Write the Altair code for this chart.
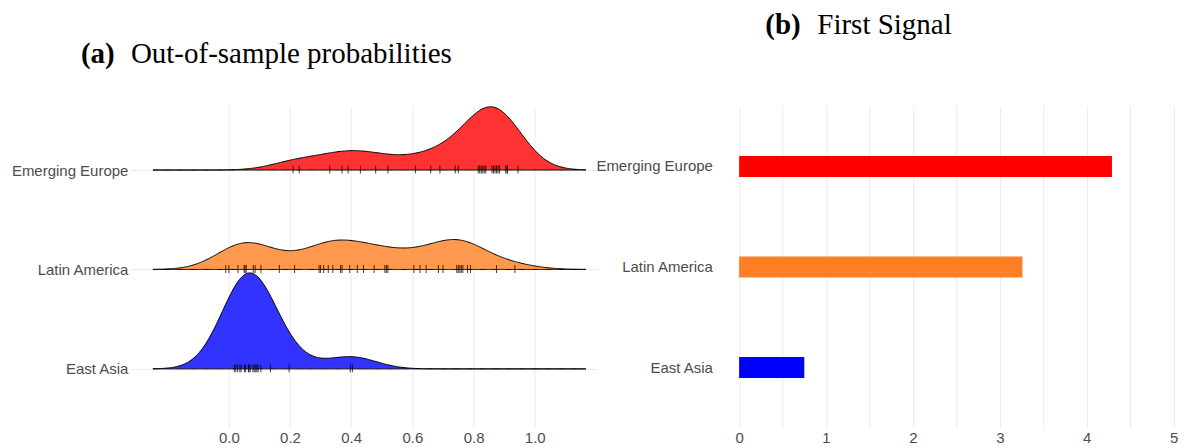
import altair as alt
import pandas as pd
import numpy as np

# ---------------- data ----------------
regions = ["Emerging Europe", "Latin America", "East Asia"]
ridge_pos = [3, 2, 1]
region_colors = ["#FF0000", "#FF7F24", "#0000FF"]

ee_probs = [0.21, 0.23, 0.33, 0.37, 0.39, 0.43, 0.48, 0.52, 0.61, 0.66, 0.69,
            0.74, 0.75, 0.815, 0.82, 0.825, 0.83, 0.835, 0.84, 0.86, 0.865,
            0.87, 0.875, 0.88, 0.885, 0.905, 0.91, 0.91, 0.945]
la_probs = [-0.01, 0.0, 0.03, 0.05, 0.053, 0.057, 0.08, 0.086, 0.105, 0.165,
            0.215, 0.295, 0.30, 0.31, 0.325, 0.34, 0.365, 0.37, 0.395, 0.42,
            0.44, 0.475, 0.51, 0.515, 0.52, 0.605, 0.625, 0.645, 0.685, 0.70,
            0.745, 0.75, 0.755, 0.76, 0.765, 0.78, 0.79, 0.875, 0.935]
ea_probs = [0.018, 0.023, 0.029, 0.036, 0.040, 0.051, 0.055, 0.064, 0.066,
            0.070, 0.079, 0.083, 0.088, 0.092, 0.096, 0.105, 0.136, 0.197,
            0.397, 0.404]

first_signal = [4.29, 3.26, 0.75]

density_extent = [-0.248, 1.167]
prob_ticks = [0.0, 0.2, 0.4, 0.6, 0.8, 1.0]
signal_ticks = [0, 0.5, 1, 1.5, 2, 2.5, 3, 3.5, 4, 4.5, 5]

title_a = ["(a)", "Out-of-sample probabilities"]
title_b = ["(b)", "First Signal"]

# ---------------- tables ----------------
samples = [ee_probs, la_probs, ea_probs]
rows = []
for r, p, s in zip(regions, ridge_pos, samples):
    for v in s:
        rows.append({"region": r, "pos": p, "value": v})
df = pd.DataFrame(rows)


def bw_nrd0(x):
    x = np.asarray(x, dtype=float)
    sd = x.std(ddof=1)
    q75, q25 = np.percentile(x, [75, 25])
    lo = min(sd, (q75 - q25) / 1.34)
    return 0.9 * lo * len(x) ** -0.2


# joint bandwidth as ggridges picks it
bw = float(np.mean([bw_nrd0(s) for s in samples]))

bars_df = pd.DataFrame({"region": regions, "value": first_signal})

color_scale = alt.Scale(domain=regions, range=region_colors)

# ---------------- panel (a) ----------------
xa = alt.Scale(domain=[-0.32, 1.205], nice=False, zero=False)
ya = alt.Scale(domain=[0.407, 3.643], nice=False, zero=False)

lbl_expr = ("datum.value == 3 ? 'Emerging Europe' : datum.value == 2 ? "
            "'Latin America' : datum.value == 1 ? 'East Asia' : ''")

base = alt.Chart(df)

ridges = (
    base.transform_density(
        "value", groupby=["region", "pos"], bandwidth=bw,
        extent=density_extent, steps=400, as_=["value", "density"])
    .transform_joinaggregate(maxd="max(density)")
    .transform_calculate(top="datum.pos + 0.965 * datum.density / datum.maxd")
    .mark_area(stroke="black", strokeWidth=1, fillOpacity=0.8)
    .encode(
        x=alt.X("value:Q", scale=xa,
                axis=alt.Axis(values=prob_ticks, format=".1f", title=None,
                              grid=True, labelPadding=3)),
        y=alt.Y("top:Q", scale=ya,
                axis=alt.Axis(values=[1, 2, 3], labelExpr=lbl_expr, title=None,
                              grid=True, labelPadding=3)),
        y2="pos:Q",
        color=alt.Color("region:N", scale=color_scale, legend=None),
    )
)

rug = base.mark_tick(orient="vertical", size=8, thickness=1, color="black",
                     opacity=0.75, yOffset=-0.5).encode(
    x=alt.X("value:Q", scale=xa),
    y=alt.Y("pos:Q", scale=ya),
)

ta1 = alt.Chart(pd.DataFrame({"t": [title_a[0]]})).mark_text(
    font="Liberation Serif", fontSize=29, fontWeight="bold", align="left",
    baseline="alphabetic", color="black").encode(
    text="t:N", x=alt.value(-50), y=alt.value(-43))
ta2 = alt.Chart(pd.DataFrame({"t": [title_a[1]]})).mark_text(
    font="Liberation Serif", fontSize=29, fontWeight="normal", align="left",
    baseline="alphabetic", color="black").encode(
    text="t:N", x=alt.value(0), y=alt.value(-43))

left = alt.layer(ridges, rug, ta1, ta2).properties(width=467, height=322)

# ---------------- panel (b) ----------------
xb = alt.Scale(domain=[-0.25, 5.05], nice=False)

sig_lbl = "datum.value % 1 === 0 ? format(datum.value, 'd') : ''"

bars = alt.Chart(bars_df).mark_bar().encode(
    y=alt.Y("region:N", sort=regions,
            scale=alt.Scale(paddingInner=0.791, paddingOuter=0.4955),
            axis=alt.Axis(title=None, grid=False, labelPadding=5)),
    x=alt.X("value:Q", scale=xb,
            axis=alt.Axis(values=signal_ticks, labelExpr=sig_lbl, title=None,
                          grid=True, labelPadding=3)),
    color=alt.Color("region:N", scale=color_scale, legend=None),
)

tb1 = alt.Chart(pd.DataFrame({"t": [title_b[0]]})).mark_text(
    font="Liberation Serif", fontSize=29, fontWeight="bold", align="left",
    baseline="alphabetic", color="black").encode(
    text="t:N", x=alt.value(48), y=alt.value(-72))
tb2 = alt.Chart(pd.DataFrame({"t": [title_b[1]]})).mark_text(
    font="Liberation Serif", fontSize=29, fontWeight="normal", align="left",
    baseline="alphabetic", color="black").encode(
    text="t:N", x=alt.value(100), y=alt.value(-72))

right = alt.layer(bars, tb1, tb2).properties(width=461, height=322)

chart = (
    alt.hconcat(left, right, spacing=120, bounds="flush")
    .properties(padding={"left": 3, "top": 3, "right": 0, "bottom": 0})
    .configure_view(stroke=None)
    .configure_axis(
        labelFont="Liberation Sans", labelFontSize=15, labelColor="#4D4D4D",
        domain=False, ticks=False, gridColor="#EBEBEB", gridWidth=1,
    )
)

chart.save("out.html", embed_options={"renderer": "svg", "actions": False})
